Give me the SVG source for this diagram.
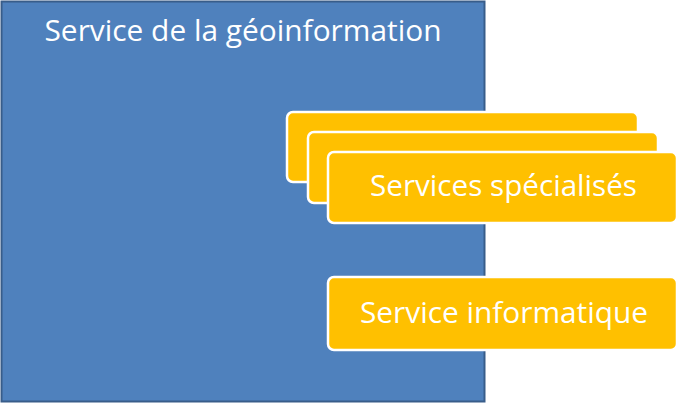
<svg xmlns="http://www.w3.org/2000/svg" width="678" height="404" viewBox="0 0 678 404">
<style>
.blue{fill:#4F81BD;stroke:#385D8A;stroke-width:2}
.yel{fill:#FFC000;stroke:#FFFFFF;stroke-width:2.5}
.t{font-family:"Open Sans","Liberation Sans",sans-serif;fill:#FFFFFF;font-size:29px;text-anchor:middle}
</style>
<rect width="678" height="404" fill="#FFFFFF"/>
<g id="geoinformation">
<rect class="blue" x="1.5" y="1.5" width="483" height="400"/>
<text class="t" x="243" y="41" textLength="397" lengthAdjust="spacingAndGlyphs">Service de la géoinformation</text>
</g>
<g id="specialises">
<rect class="yel" x="287" y="112" width="351" height="70" rx="6"/>
<rect class="yel" x="308" y="132" width="350" height="71" rx="6"/>
<rect class="yel" x="328" y="152" width="349" height="71" rx="6"/>
<text class="t" x="503.5" y="196" textLength="267" lengthAdjust="spacingAndGlyphs">Services spécialisés</text>
</g>
<g id="informatique">
<rect class="yel" x="328" y="277" width="349" height="73" rx="6"/>
<text class="t" x="504" y="323" textLength="288" lengthAdjust="spacingAndGlyphs">Service informatique</text>
</g>
<g id="connectors"/>
</svg>
